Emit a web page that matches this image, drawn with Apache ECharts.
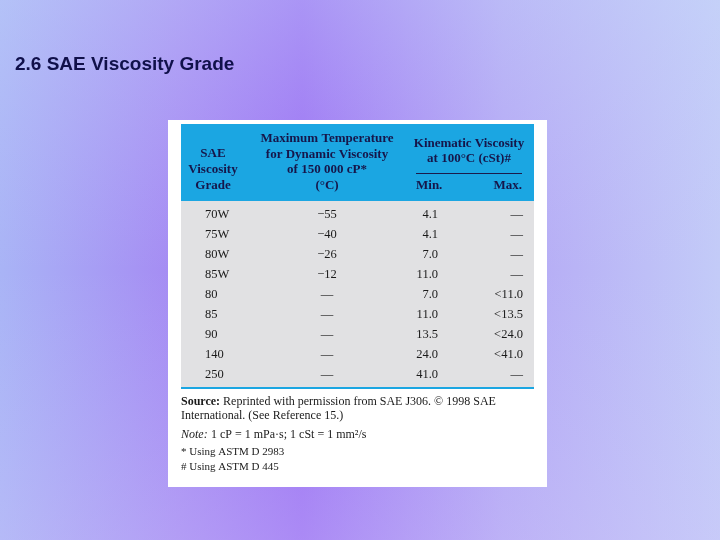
<!DOCTYPE html>
<html><head><meta charset="utf-8">
<script src="https://cdn.jsdelivr.net/npm/echarts@6/dist/echarts.min.js"></script>
<style>html,body{margin:0;padding:0;}#c{width:720px;height:540px;}</style>
</head><body><div id="c"></div>
<script>
const grades = ['70W','75W','80W','85W','80','85','90','140','250'];
const maxTemp = ['\u221255','\u221240','\u221226','\u221212','\u2014','\u2014','\u2014','\u2014','\u2014'];
const kinMin = ['4.1','4.1','7.0','11.0','7.0','11.0','13.5','24.0','41.0'];
const kinMax = ['\u2014','\u2014','\u2014','\u2014','<11.0','<13.5','<24.0','<41.0','\u2014'];
const title = '2.6 SAE Viscosity Grade';
const footLines = ['Source: Reprinted with permission from SAE J306. \u00a9 1998 SAE','International. (See Reference 15.)'];

const serif = '"Liberation Serif","DejaVu Serif",serif';
const els = [];
els.push({type:'rect',shape:{x:0,y:0,width:720,height:540},style:{fill:{type:'linear',x:0,y:0,x2:1,y2:0,colorStops:[{offset:0,color:'#a9b4f6'},{offset:0.25,color:'#a58af3'},{offset:0.42,color:'#9a6ff3'},{offset:0.7,color:'#b4a8f5'},{offset:1,color:'#c3cbf8'}]}}});
els.push({type:'rect',shape:{x:0,y:0,width:720,height:540},style:{fill:{type:'linear',x:0,y:0,x2:0,y2:1,colorStops:[{offset:0,color:'rgba(200,220,250,0.35)'},{offset:0.5,color:'rgba(200,200,250,0)'},{offset:1,color:'rgba(210,200,250,0.3)'}]}}});
els.push({type:'text',style:{x:15,y:65,text:title,font:'bold 19px "Liberation Sans",Arial,sans-serif',fill:'#10104a',verticalAlign:'middle'}});
els.push({type:'rect',shape:{x:168,y:120,width:379,height:367},style:{fill:'#ffffff'}});
els.push({type:'rect',shape:{x:181,y:124,width:353,height:77},style:{fill:'#1ba6e2'}});
els.push({type:'rect',shape:{x:181,y:201,width:353,height:187},style:{fill:'#e1e1e3'}});
els.push({type:'rect',shape:{x:181,y:387,width:353,height:2},style:{fill:'#1ba6e2'}});
els.push({type:'rect',shape:{x:416,y:173,width:106,height:1},style:{fill:'#1b1b4a'}});
function hdr(x,y,t,align){els.push({type:'text',style:{x:x,y:y,text:t,font:'bold 13px '+serif,fill:'#16164a',align:align||'center',verticalAlign:'middle'}});}
hdr(213,154,'SAE');hdr(213,170,'Viscosity');hdr(213,186,'Grade');
hdr(327,139,'Maximum Temperature');hdr(327,155,'for Dynamic Viscosity');hdr(327,170,'of 150 000 cP*');hdr(327,186,'(\u00b0C)');
hdr(469,144,'Kinematic Viscosity');hdr(469,159,'at 100\u00b0C (cSt)#');
hdr(416,186,'Min.','left');hdr(522,186,'Max.','right');
function cell(x,y,t,align){els.push({type:'text',style:{x:x,y:y,text:t,font:'12.5px '+serif,fill:'#1a1a1a',align:align,verticalAlign:'middle'}});}
grades.forEach((g,i)=>{
  const y=215+i*20;
  cell(205,y,g,'left');
  cell(327,y,maxTemp[i],'center');
  cell(438,y,kinMin[i],'right');
  cell(523,y,kinMax[i],'right');
});
function foot(y,t,font){els.push({type:'text',style:{x:181,y:y,text:t,font:font||('12px '+serif),fill:'#1a1a1a',verticalAlign:'middle'}});}
els.push({type:'text',style:{x:181,y:402,rich:{b:{font:'bold 12px '+serif,fill:'#1a1a1a'},n:{font:'12px '+serif,fill:'#1a1a1a'}},text:'{b|Source:}{n|'+footLines[0].slice(7)+'}',verticalAlign:'middle'}});
foot(416,footLines[1]);
els.push({type:'text',style:{x:181,y:435,rich:{i:{font:'italic 12px '+serif,fill:'#1a1a1a'},n:{font:'12px '+serif,fill:'#1a1a1a'}},text:'{i|Note:} {n|1 cP = 1 mPa\u00b7s; 1 cSt = 1 mm\u00b2/s}',verticalAlign:'middle'}});
foot(452,'* Using ASTM D 2983','11px '+serif);
foot(467,'# Using ASTM D 445','11px '+serif);
const chart = echarts.init(document.getElementById('c'));
chart.setOption({animation:false,graphic:{elements:els}});
</script></body></html>
